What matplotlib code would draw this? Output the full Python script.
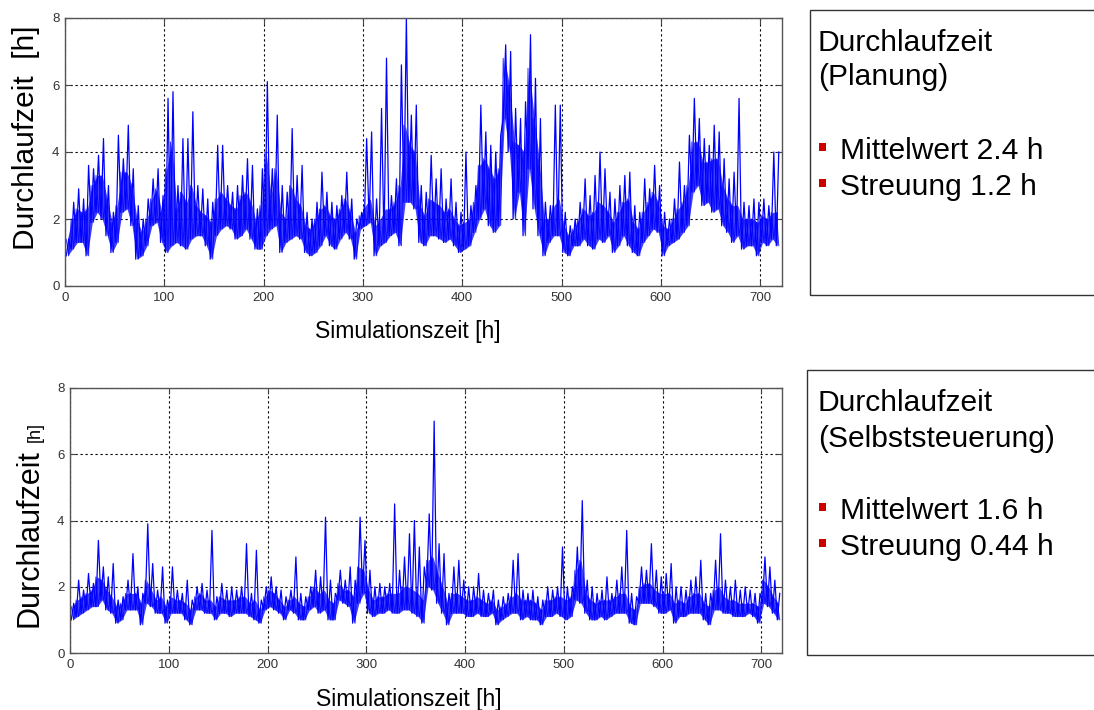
import numpy as np
import matplotlib.pyplot as plt
from matplotlib.patches import Rectangle

plt.rcParams['font.family'] = ['Liberation Sans', 'DejaVu Sans']

W, H = 1094, 710

# Durchlaufzeit, read per 5 h bin: lower edge, top of the dense band, highest spike
bin_width = 5

plan_low = [
    0.9, 1.1, 1.3, 1.3, 0.9, 1.9, 2.2, 2.0, 1.5, 1.0, 1.3, 2.2, 2.3, 1.8, 0.8, 0.9,
    1.2, 1.8, 1.9, 1.3, 1.0, 1.2, 1.3, 1.2, 1.1, 1.4, 1.5, 1.5, 1.2, 0.8, 1.5, 1.7,
    1.8, 1.7, 1.4, 1.5, 1.7, 1.4, 1.1, 1.1, 1.5, 1.7, 1.8, 1.0, 1.3, 1.4, 1.5, 1.4,
    1.0, 0.9, 1.0, 1.2, 1.5, 1.2, 1.1, 1.4, 1.6, 1.4, 0.8, 1.7, 1.8, 1.9, 0.9, 1.2,
    1.3, 1.5, 1.6, 1.2, 2.5, 2.5, 2.3, 1.3, 1.2, 1.5, 1.5, 1.4, 1.3, 1.4, 1.2, 1.0,
    1.1, 1.2, 1.6, 2.0, 2.3, 1.8, 1.6, 1.8, 5.0, 4.0, 2.0, 2.8, 1.5, 3.5, 2.3, 1.5,
    0.9, 1.3, 1.5, 1.5, 1.0, 0.9, 1.2, 1.2, 1.4, 1.2, 1.1, 1.4, 1.3, 1.5, 1.0, 1.2,
    1.5, 1.2, 1.0, 0.9, 1.3, 1.5, 1.7, 1.6, 0.9, 1.2, 1.3, 1.4, 1.6, 1.8, 2.8, 3.0,
    2.4, 2.5, 2.2, 2.3, 1.8, 1.6, 1.3, 1.5, 1.1, 1.2, 1.2, 0.9, 1.3, 1.2, 1.4, 1.2,
]
plan_core = [
    1.4, 2.0, 2.3, 2.2, 2.3, 3.0, 3.3, 3.3, 2.6, 1.9, 2.4, 3.4, 3.4, 3.0, 2.0, 1.6,
    2.0, 2.6, 2.9, 2.2, 3.5, 4.3, 2.3, 2.8, 2.5, 3.0, 2.4, 2.2, 2.1, 1.9, 2.6, 2.8,
    2.6, 2.4, 2.3, 2.7, 2.8, 2.5, 1.9, 2.4, 4.0, 2.7, 3.5, 2.2, 2.0, 3.0, 2.6, 2.4,
    1.8, 1.7, 2.0, 2.3, 2.4, 2.1, 2.0, 2.3, 2.6, 2.2, 1.6, 2.1, 2.4, 2.6, 1.8, 2.0,
    2.3, 2.3, 2.5, 3.0, 4.8, 4.2, 4.0, 2.4, 2.1, 2.6, 2.5, 2.4, 2.2, 2.3, 2.0, 1.8,
    1.9, 2.0, 2.5, 3.6, 3.8, 3.5, 3.2, 3.5, 6.8, 6.0, 4.3, 4.2, 4.0, 6.5, 5.0, 3.8,
    2.0, 2.0, 2.4, 2.6, 1.8, 1.5, 1.7, 2.0, 2.3, 2.1, 2.2, 2.5, 2.4, 2.2, 1.9, 2.2,
    2.5, 2.6, 1.9, 1.7, 2.2, 2.5, 2.8, 2.5, 1.8, 1.7, 2.0, 2.3, 2.5, 3.0, 4.3, 4.3,
    3.7, 3.7, 3.8, 3.8, 3.0, 2.6, 2.4, 2.4, 2.0, 2.0, 2.0, 1.9, 2.1, 2.0, 2.2, 2.2,
]
plan_high = [
    1.4, 2.5, 2.9, 2.6, 3.6, 3.5, 3.9, 4.4, 3.0, 2.2, 4.5, 3.8, 4.8, 3.5, 2.4, 2.0,
    2.6, 3.2, 3.5, 2.7, 5.6, 5.8, 3.0, 4.4, 4.4, 5.2, 3.0, 2.9, 2.6, 2.5, 4.2, 4.2,
    3.0, 2.8, 3.0, 3.3, 3.8, 3.6, 2.3, 3.5, 6.1, 3.5, 5.1, 3.0, 2.8, 4.7, 3.3, 3.6,
    2.2, 2.0, 2.5, 3.4, 2.8, 2.5, 2.4, 2.7, 3.4, 2.6, 2.0, 2.2, 4.4, 4.6, 2.6, 5.3,
    6.8, 2.7, 3.2, 6.6, 8.0, 5.1, 5.4, 3.0, 2.8, 3.9, 3.2, 3.5, 2.6, 3.2, 2.5, 2.2,
    4.0, 2.4, 3.0, 5.4, 4.6, 4.2, 4.0, 4.5, 7.2, 7.0, 5.3, 5.0, 5.5, 7.5, 6.2, 5.0,
    2.5, 2.4, 5.4, 5.4, 2.2, 1.8, 2.0, 2.5, 3.2, 2.7, 3.3, 4.0, 3.5, 2.8, 2.6, 3.0,
    3.3, 3.4, 2.4, 2.2, 3.2, 2.9, 3.6, 3.0, 2.2, 2.0, 2.6, 3.7, 3.0, 4.5, 5.6, 5.0,
    4.4, 4.2, 4.8, 4.6, 3.8, 3.2, 3.4, 5.6, 2.5, 2.4, 2.6, 2.5, 2.6, 2.4, 4.0, 4.0,
]

self_low = [
    1.0, 1.1, 1.2, 1.3, 1.4, 1.4, 1.6, 1.3, 1.2, 0.9, 1.0, 1.3, 1.3, 1.3, 0.85, 1.5,
    1.4, 1.2, 1.2, 0.9, 1.2, 1.2, 1.2, 1.0, 0.85, 1.3, 1.3, 1.2, 1.2, 1.0, 1.2, 1.2,
    1.1, 1.2, 1.2, 1.2, 1.1, 1.0, 0.9, 1.3, 1.4, 1.3, 1.2, 1.0, 1.3, 1.2, 1.0, 1.0,
    1.3, 1.4, 1.2, 1.3, 1.0, 1.0, 1.6, 1.5, 1.4, 0.9, 1.5, 1.8, 1.2, 1.1, 1.2, 1.2,
    1.3, 1.2, 1.2, 1.3, 1.3, 1.2, 1.1, 0.9, 2.0, 1.9, 1.5, 1.2, 0.85, 1.2, 1.2, 1.2,
    1.1, 1.1, 1.2, 1.1, 1.1, 1.2, 0.85, 1.0, 1.1, 1.2, 1.2, 1.0, 1.1, 1.0, 1.0, 0.85,
    1.1, 1.1, 1.2, 1.1, 1.0, 1.1, 1.6, 1.5, 1.2, 1.0, 1.0, 1.1, 1.0, 1.1, 1.2, 1.2,
    1.2, 0.9, 0.85, 1.5, 1.5, 1.5, 1.4, 1.2, 1.2, 1.3, 0.9, 1.1, 1.1, 1.2, 1.2, 1.2,
    1.0, 0.85, 1.3, 1.3, 1.2, 1.2, 1.1, 1.1, 1.1, 1.2, 1.1, 0.9, 1.5, 1.4, 1.2, 1.0,
]
self_core = [
    1.4, 1.6, 1.7, 1.8, 1.9, 2.3, 2.2, 1.9, 1.7, 1.4, 1.5, 1.8, 1.8, 1.8, 1.5, 2.2,
    1.9, 1.6, 1.7, 1.4, 1.7, 1.6, 1.6, 1.5, 1.3, 1.7, 1.8, 1.6, 1.6, 1.4, 1.7, 1.6,
    1.6, 1.6, 1.7, 1.7, 1.5, 1.6, 1.3, 1.7, 1.9, 1.8, 1.6, 1.4, 1.6, 1.7, 1.5, 1.4,
    1.7, 2.0, 1.8, 1.9, 1.6, 1.5, 2.1, 1.9, 1.9, 1.7, 2.6, 2.5, 1.9, 1.6, 1.7, 1.7,
    1.8, 1.8, 1.8, 2.0, 2.0, 1.9, 1.8, 1.6, 2.8, 2.9, 2.4, 2.0, 1.5, 1.8, 1.8, 1.7,
    1.6, 1.6, 1.7, 1.6, 1.5, 1.6, 1.3, 1.4, 1.5, 1.7, 1.8, 1.6, 1.6, 1.6, 1.5, 1.3,
    1.6, 1.6, 1.7, 1.7, 1.6, 1.7, 2.5, 2.8, 1.8, 1.6, 1.5, 1.6, 1.6, 1.6, 1.7, 1.8,
    1.8, 1.4, 1.3, 2.0, 2.1, 2.1, 1.9, 1.8, 1.8, 1.8, 1.5, 1.6, 1.5, 1.7, 1.8, 1.8,
    1.5, 1.4, 1.9, 2.0, 1.7, 1.6, 1.6, 1.5, 1.5, 1.5, 1.5, 1.4, 2.2, 2.0, 1.7, 1.5,
]
self_high = [
    1.5, 2.2, 1.9, 2.4, 2.1, 3.4, 2.6, 2.3, 2.7, 1.6, 1.7, 2.2, 3.0, 2.0, 1.8, 3.9,
    2.7, 1.9, 2.6, 1.6, 2.6, 1.9, 1.8, 2.2, 1.6, 2.0, 2.1, 1.9, 3.7, 1.7, 2.1, 1.9,
    2.0, 1.9, 2.0, 3.3, 1.8, 3.1, 1.6, 2.0, 2.3, 2.0, 1.9, 1.7, 1.9, 2.9, 1.8, 1.7,
    2.0, 2.5, 2.3, 4.1, 2.2, 1.8, 2.5, 2.2, 2.6, 2.2, 4.1, 3.4, 2.5, 2.0, 2.1, 2.0,
    2.1, 4.5, 2.5, 2.9, 3.6, 4.0, 3.2, 2.6, 4.2, 7.0, 3.3, 3.0, 1.8, 2.6, 2.8, 2.2,
    2.0, 2.0, 2.4, 1.9, 1.8, 1.9, 1.6, 1.7, 1.8, 2.8, 3.0, 1.9, 1.8, 1.9, 1.7, 1.6,
    2.0, 1.9, 2.0, 3.2, 2.0, 2.0, 3.2, 4.6, 2.2, 2.0, 1.8, 1.9, 2.3, 1.8, 2.2, 2.6,
    3.7, 1.8, 1.7, 2.6, 2.5, 3.3, 2.5, 2.3, 2.4, 2.7, 2.0, 2.0, 1.9, 2.2, 2.3, 2.8,
    1.8, 1.8, 2.8, 3.6, 2.2, 2.0, 2.2, 1.9, 2.0, 1.9, 1.8, 1.8, 2.9, 2.6, 2.2, 1.8,
]

xticks = [0, 100, 200, 300, 400, 500, 600, 700]
yticks = [0, 2, 4, 6, 8]

titles = [("Durchlaufzeit", "(Planung)"), ("Durchlaufzeit", "(Selbststeuerung)")]
stats = [["Mittelwert 2.4 h", "Streuung 1.2 h"],
         ["Mittelwert 1.6 h", "Streuung 0.44 h"]]


def fx(px):
    return px / W


def fy(py):
    return 1 - py / H


def zigzag(lo, hi):
    start = np.arange(len(lo)) * bin_width
    x = np.column_stack([start + 1.25, start + 3.75]).ravel()
    y = np.column_stack([lo, hi]).ravel()
    return x, y


fig = plt.figure(figsize=(W / 100, H / 100), dpi=100)

# axes rectangles in pixels: left, top, right, bottom
panels = [
    dict(rect=(65, 18, 782, 286), xmax=722, lo=plan_low, core=plan_core, hi=plan_high),
    dict(rect=(70, 388, 782, 653), xmax=721, lo=self_low, core=self_core, hi=self_high),
]

for p in panels:
    l, t, r, b = p["rect"]
    ax = fig.add_axes([fx(l), fy(b), (r - l) / W, (b - t) / H])
    centers = np.arange(len(p["lo"])) * bin_width + bin_width / 2
    ax.fill_between(centers, p["lo"], p["core"], color="#0000ff", alpha=0.75, lw=0)
    x, y = zigzag(p["lo"], p["hi"])
    ax.plot(x, y, color="#0000ff", lw=0.9)
    x2, y2 = zigzag(p["core"], p["lo"])
    ax.plot(x2, y2, color="#0000ff", lw=0.7, alpha=0.8)
    ax.set_xlim(0, p["xmax"])
    ax.set_ylim(0, 8)
    ax.set_xticks(xticks)
    ax.set_yticks(yticks)
    ax.grid(True, color="black", linestyle=(0, (2, 2.5)), lw=0.8)
    ax.set_axisbelow(True)
    ax.tick_params(direction="in", top=True, right=True, length=4,
                   labelsize=9.5, labelcolor="#333333", color="#444444", pad=4)
    for s in ax.spines.values():
        s.set_color("#555555")
        s.set_linewidth(1.0)

# y labels
fig.text(fx(34), fy(250), "Durchlaufzeit  [h]", rotation=90, rotation_mode="anchor",
         ha="left", va="baseline", fontsize=21.5)
fig.text(fx(38), fy(627), "Durchlaufzeit", rotation=90, rotation_mode="anchor",
         ha="left", va="baseline", fontsize=22)
fig.text(fx(40), fy(442), "[h]", rotation=90, rotation_mode="anchor",
         ha="left", va="baseline", fontsize=13)

# x labels
fig.text(fx(408), fy(338), "Simulationszeit [h]", ha="center", va="baseline", fontsize=16.5)
fig.text(fx(409), fy(706), "Simulationszeit [h]", ha="center", va="baseline", fontsize=16.5)

# info boxes
box_px = [(810, 10, 295), (807, 370, 655)]
title_base = [(51, 85), (411, 447)]
stat_base = [(159, 195), (519, 555)]
for i, (bx, btop, bbot) in enumerate(box_px):
    fig.patches.append(Rectangle((fx(bx), fy(bbot)), fx(W + 20 - bx), (bbot - btop) / H,
                                 transform=fig.transFigure, fill=False,
                                 edgecolor="#333333", lw=1.0))
    for line, base in zip(titles[i], title_base[i]):
        fig.text(fx(818), fy(base), line, ha="left", va="baseline", fontsize=21.6)
    for s, base in zip(stats[i], stat_base[i]):
        fig.patches.append(Rectangle((fx(819), fy(base - 8)), 7 / W, 8 / H,
                                     transform=fig.transFigure, facecolor="#cc0000",
                                     edgecolor="none"))
        fig.text(fx(840), fy(base), s, ha="left", va="baseline", fontsize=21.6)

fig.savefig("out.png", dpi=100)
